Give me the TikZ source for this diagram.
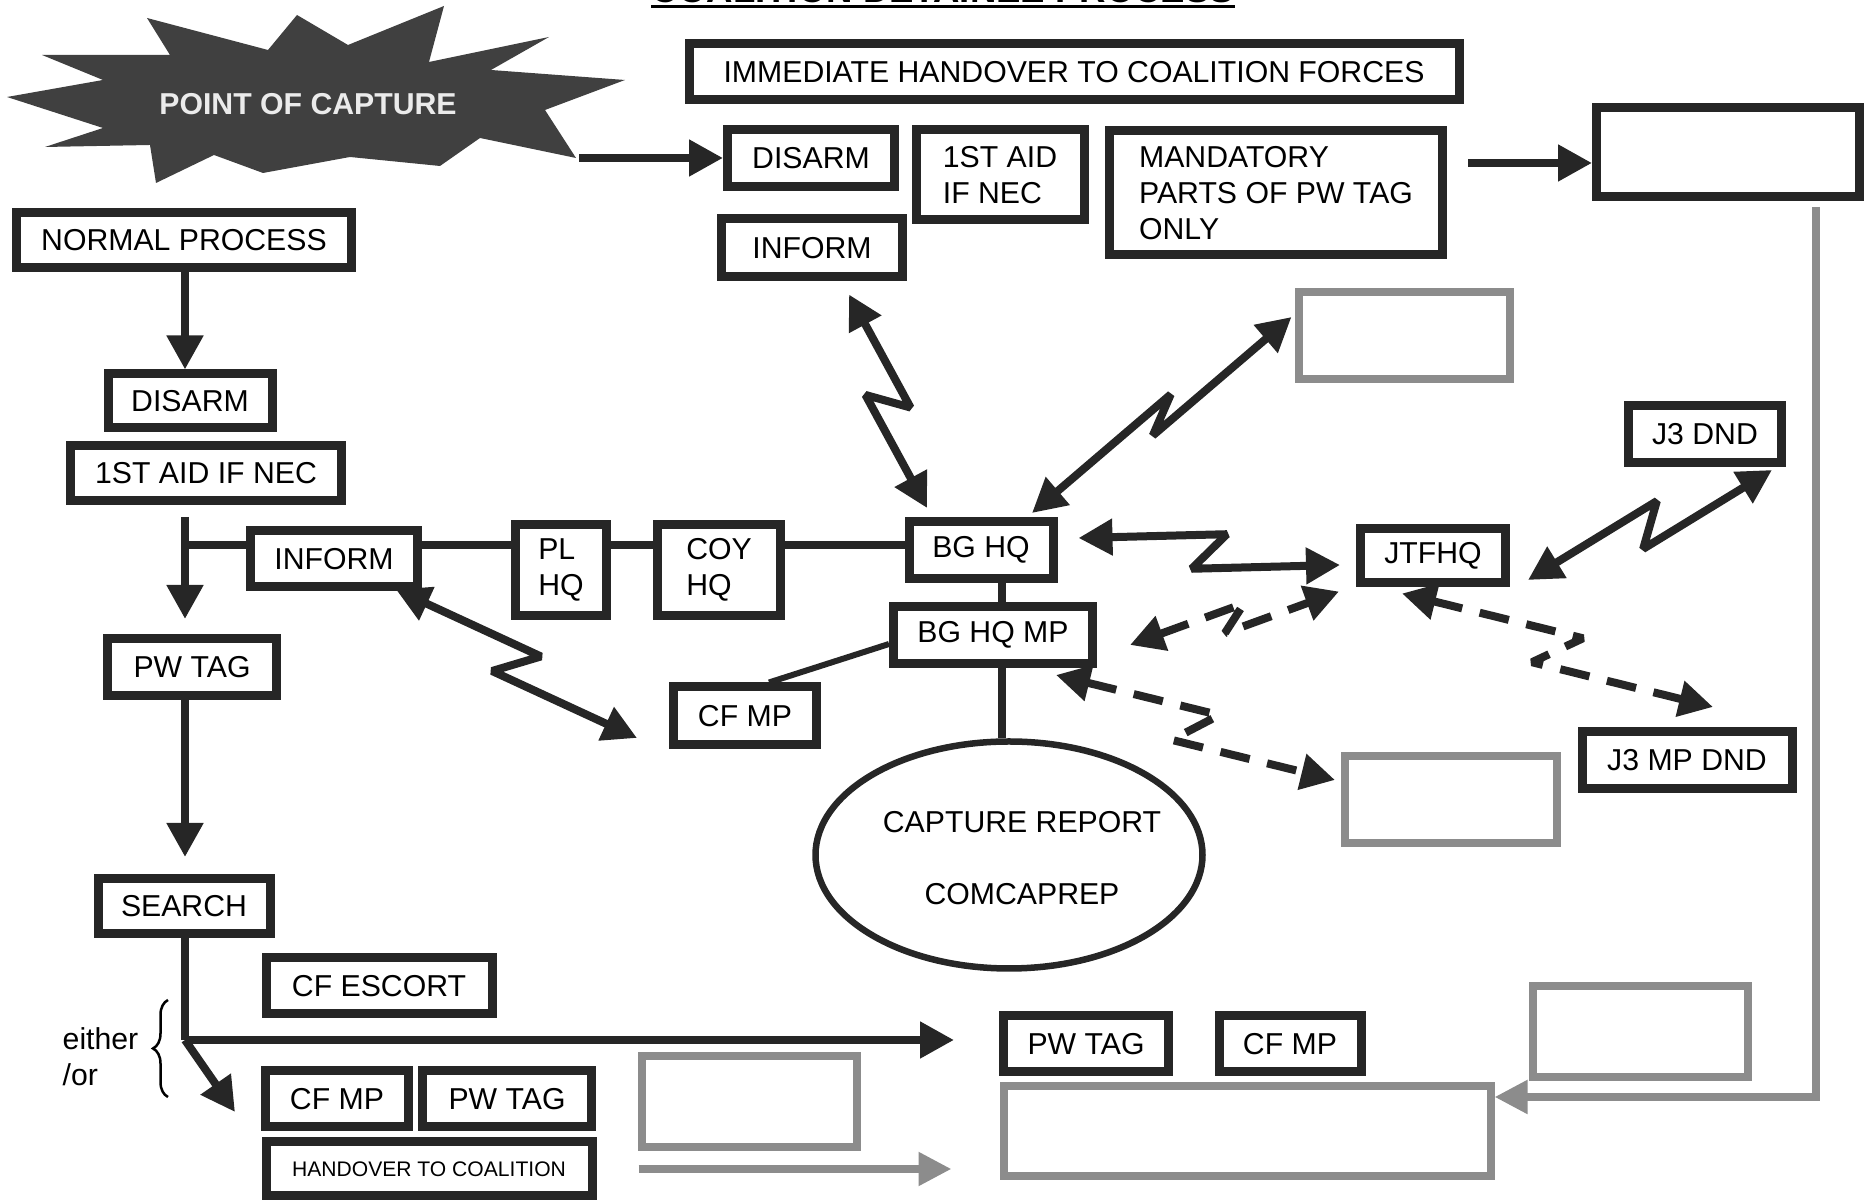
\documentclass[tikz,border=0pt]{standalone}
\usepackage{fontspec}
\setmainfont{Liberation Sans}
\usetikzlibrary{arrows.meta,calc,shapes.geometric,decorations.pathreplacing}

\tikzset{
  box/.style={draw=black!85, line width=0.9mm, inner sep=0.8mm, align=left, font=\fontsize{8.6}{10.3}\selectfont},
  greybox/.style={draw=black!45, line width=0.8mm},
  link/.style={draw=black!85, line width=0.8mm},
  arr/.style={link, -{Stealth[inset=0pt,length=3.4mm,width=3.5mm]}},
  greyarr/.style={draw=black!45, line width=0.8mm, -{Stealth[inset=0pt,length=3.3mm,width=3.2mm]}},
  zap/.style={link, line join=bevel, {Stealth[inset=0pt,length=3.4mm,width=3.5mm]}-{Stealth[inset=0pt,length=3.4mm,width=3.5mm]}},
  zapdash/.style={zap, dash pattern=on 3mm off 1.8mm},
  zz/.style={to path={-- ($(\tikztostart)!.56!(\tikztotarget)!#1!90:(\tikztotarget)$) -- ($(\tikztostart)!.44!(\tikztotarget)!#1!-90:(\tikztotarget)$) -- (\tikztotarget)}},
}

\begin{document}
\begin{tikzpicture}[x=0.1mm,y=-0.1mm]
    \useasboundingbox (0,0) rectangle (1871,1201);

    % title, mostly off the page
    \node[anchor=base, inner sep=0, font=\bfseries\fontsize{10.4}{12}\selectfont] (title) at (943,3) {COALITION DETAINEE PROCESS};
    \draw[line width=0.25mm] ([yshift=-0.35mm]title.base west) -- ([yshift=-0.35mm]title.base east);

    % point of capture
    \fill[black!75] (147,18) -- (268,50) -- (297,15) -- (348,45) -- (444,6) -- (429,62) -- (549,37) -- (491,70) -- (625,80) -- (545,110) -- (576,158) -- (480,138) -- (440,166) -- (350,157) -- (263,173) -- (214,155) -- (156,183) -- (150,145) -- (45,147) -- (103,128) -- (7,97) -- (103,80) -- (42,55) -- (170,55) -- cycle;
    \node[font=\bfseries\fontsize{8.6}{10.3}\selectfont, text=black!8] (poc) at (308,104) {POINT OF CAPTURE};
    \coordinate (starR) at (579,158);

    % immediate handover
    \node[box, minimum width=77mm, minimum height=5.6mm] (handT) at (1074,72) {IMMEDIATE HANDOVER TO COALITION FORCES};
    \node[box, minimum width=16.7mm, minimum height=5.7mm] (disarmT) at (811,158) {DISARM};
    \node[box, minimum width=16.8mm, minimum height=9mm] (aidT) at (1000,175) {1ST AID\\IF NEC};
    \node[box, minimum width=33.3mm, minimum height=12.4mm] (mand) at (1276,193) {MANDATORY\\PARTS OF PW TAG\\ONLY};
    \node[box, minimum width=18.1mm, minimum height=5.8mm] (informT) at (812,248) {INFORM};
    \node[box, minimum width=26.3mm, minimum height=8.9mm] (outbox) at (1728,152) {};

    % normal process
    \node[box, minimum width=33.5mm, minimum height=5.5mm] (normal) at (184,240) {NORMAL PROCESS};
    \node[box, minimum width=16.4mm, minimum height=5.4mm] (disarmL) at (190,401) {DISARM};
    \node[box, minimum width=27.1mm, minimum height=5.5mm] (aidL) at (206,473) {1ST AID IF NEC};
    \node[box, minimum width=16.7mm, minimum height=5.6mm] (informM) at (334,559) {INFORM};
    \node[box, minimum width=9.1mm, minimum height=9.1mm] (plhq) at (561,570) {PL\\HQ};
    \node[box, minimum width=12.3mm, minimum height=9.1mm] (coyhq) at (719,570) {COY\\HQ};
    \node[box, minimum width=14.4mm, minimum height=5.7mm] (bghq) at (981,550) {BG HQ};
    \node[box, minimum width=19.9mm, minimum height=5.7mm] (bghqmp) at (993,635) {BG HQ MP};
    \node[box, minimum width=14.3mm, minimum height=5.8mm] (cfmpM) at (745,716) {CF MP};
    \node[box, minimum width=14.5mm, minimum height=5.4mm] (jtf) at (1433,556) {JTFHQ};
    \node[box, minimum width=15.3mm, minimum height=5.7mm] (j3dnd) at (1705,434) {J3 DND};
    \node[box, minimum width=21mm, minimum height=5.7mm] (j3mp) at (1687,760) {J3 MP DND};
    \node[box, minimum width=16.9mm, minimum height=5.7mm] (pwtagL) at (192,667) {PW TAG};
    \node[box, minimum width=17.2mm, minimum height=5.5mm] (search) at (184,906) {SEARCH};
    \node[box, minimum width=22.6mm, minimum height=5.6mm] (escort) at (379,986) {CF ESCORT};
    \node[box, minimum width=14.3mm, minimum height=5.6mm] (cfmpB) at (337,1099) {CF MP};
    \node[box, minimum width=16.9mm, minimum height=5.6mm] (pwtagBL) at (507,1099) {PW TAG};
    \node[box, minimum width=32.6mm, minimum height=5.4mm, font=\fontsize{6}{7}\selectfont] (handover) at (429,1169) {HANDOVER TO COALITION};
    \node[box, minimum width=16.5mm, minimum height=5.6mm] (pwtagB) at (1086,1044) {PW TAG};
    \node[box, minimum width=14.2mm, minimum height=5.6mm] (cfmpB2) at (1290,1044) {CF MP};
    \node[ellipse, draw=black!85, line width=0.65mm, inner sep=0, minimum width=38.7mm, minimum height=22.7mm] (report) at (1009,855) {};
    \node[align=center, font=\fontsize{8.6}{10.3}\selectfont] (reportTxt) at (1022,858) {CAPTURE REPORT\\[3.6mm]COMCAPREP};

    % empty grey boxes
    \node[greybox, minimum width=21.1mm, minimum height=8.7mm] (greyA) at (1404,336) {};
    \node[greybox, minimum width=21.2mm, minimum height=8.7mm] (greyB) at (1451,800) {};
    \node[greybox, minimum width=21.5mm, minimum height=9.1mm] (greyC) at (749,1102) {};
    \node[greybox, minimum width=21.5mm, minimum height=9.1mm] (greyD) at (1640,1032) {};
    \node[greybox, minimum width=48.7mm, minimum height=9mm] (greyE) at (1247,1131) {};

    \coordinate (split) at (185,545);
    \coordinate (fork) at (185,1040);

    % flow
    \draw[arr] (starR) -- (starR -| disarmT.west);
    \draw[arr] ($(outbox.west)+(-124,11)$) -- ($(outbox.west)+(0,11)$);
    \draw[arr] (normal.south -| split) -- (disarmL.north -| split);
    \draw[link] ([yshift=-1.2mm]aidL.south -| split) -- (split) -- (informM.west |- split);
    \draw[arr] (split) -- ([yshift=1.5mm]pwtagL.north -| split);
    \draw[link] (informM.east |- split) -- (plhq.west |- split);
    \draw[link] (plhq.east |- split) -- (coyhq.west |- split);
    \draw[link] (coyhq.east |- split) -- (bghq.west |- split);
    \draw[link] ([xshift=2.1mm]bghq.south) -- ([xshift=2.1mm]bghq.south |- bghqmp.north);
    \draw[link] ([xshift=0.9mm]bghqmp.south) -- ([xshift=0.9mm]bghqmp.south |- report.north);
    \draw[link, line width=0.6mm] ($(bghqmp.west)+(0,9)$) -- ($(cfmpM.north)+(24,0)$);
    \draw[arr] (pwtagL.south -| split) -- ([yshift=1.7mm]search.north -| split);
    \draw[link] (search.south -| split) -- (fork);
    \draw[arr] (fork) -- ([xshift=-4.5mm]pwtagB.west |- fork);
    \draw[arr] (fork) -- ($(cfmpB.west)+(-26,13)$);
    \draw[decorate, decoration={brace, amplitude=1.5mm}, line width=0.25mm] (168,1097) -- (168,1000);
    \node[anchor=base west, inner sep=0, font=\fontsize{8.6}{10.3}\selectfont] (either) at (62,1050) {either};
    \node[anchor=base west, inner sep=0, font=\fontsize{8.6}{10.3}\selectfont] (or) at (62,1086) {/or};
    \draw[greyarr] ([xshift=4.2mm]handover.east) -- ([xshift=-4.8mm]handover.east -| greyE.west);
    \draw[greyarr] ($(outbox.south)+(88,6)$) |- ($(greyE.east)+(0,-34)$);

    % radio links
    \draw[zap] ($(informT.south)+(37,13)$) to[zz=1.9mm] ($(bghq.north)+(-54,-9)$);
    \draw[zap] ($(bghq.north)+(51,-4)$) to[zz=1.1mm] ($(greyA.west)+(-3,-19)$);
    \draw[zap] ($(bghq.east)+(21,-12)$) to[zz=1.9mm] ($(jtf.west)+(-16,9)$);
    \draw[zap] ($(jtf.east)+(18,24)$) to[zz=1.9mm] ($(j3dnd.south)+(67,3)$);
    \draw[zap] ($(informM.south east)+(-26,-2)$) to[zz=1.9mm] ($(cfmpM.west)+(-32,22)$);
    \draw[zapdash] ($(bghqmp.east)+(33,10)$) to[zz=1.2mm] ($(jtf.south west)+(-17,4)$);
    \draw[zapdash] ($(bghqmp.south east)+(-41,7)$) to[zz=2mm] ($(greyB.west)+(-6,-20)$);
    \draw[zapdash] ($(jtf.south)+(-31,6)$) to[zz=2mm] ($(j3mp.north)+(26,-20)$);
\end{tikzpicture}
\end{document}
